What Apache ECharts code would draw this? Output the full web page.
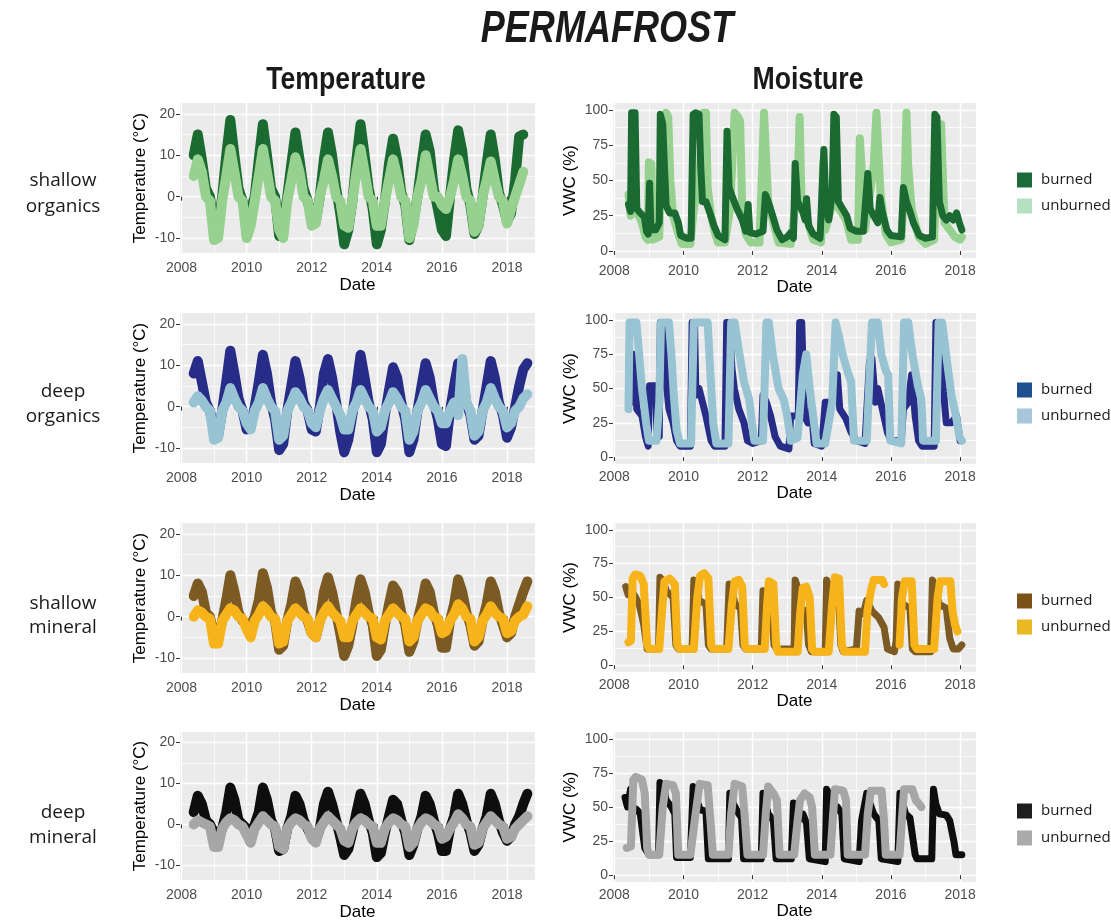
<!DOCTYPE html>
<html><head><meta charset="utf-8">
<script src="https://cdn.jsdelivr.net/npm/echarts@6/dist/echarts.min.js"></script>
<style>html,body{margin:0;padding:0;background:#fff}#c{width:1111px;height:922px}</style>
</head><body><div id="c"></div>
<script>
// ---------- DATA ----------
const xMajor = [2008, 2010, 2012, 2014, 2016, 2018];
const xMinor = [2009, 2011, 2013, 2015, 2017];
const tempTicks = [-10, 0, 10, 20];
const tempMinor = [-5, 5, 15];
const moistTicks = [0, 25, 50, 75, 100];
const moistMinor = [12.5, 37.5, 62.5, 87.5];

const rowNames = [["shallow","organics"],["deep","organics"],["shallow","mineral"],["deep","mineral"]];
const groups = ["burned", "unburned"];

const tempDates = [
 2008.375,2008.5,2008.625,2008.75,2008.875,
 2009,2009.125,2009.25,2009.375,2009.5,2009.625,2009.75,2009.875,
 2010,2010.125,2010.25,2010.375,2010.5,2010.625,2010.75,2010.875,
 2011,2011.125,2011.25,2011.375,2011.5,2011.625,2011.75,2011.875,
 2012,2012.125,2012.25,2012.375,2012.5,2012.625,2012.75,2012.875,
 2013,2013.125,2013.25,2013.375,2013.5,2013.625,2013.75,2013.875,
 2014,2014.125,2014.25,2014.375,2014.5,2014.625,2014.75,2014.875,
 2015,2015.125,2015.25,2015.375,2015.5,2015.625,2015.75,2015.875,
 2016,2016.125,2016.25,2016.375,2016.5,2016.625,2016.75,2016.875,
 2017,2017.125,2017.25,2017.375,2017.5,2017.625,2017.75,2017.875,
 2018,2018.125,2018.25,2018.375,2018.5,2018.625
];

// shallow organics temperature
const tSOB = [
 10,15,9,2,0,
 -8,-7,0,10,18.5,10,2,-1,
 -4,-3,0,9,17.5,10,2,0,
 -9.5,-6,0,8,15.5,9,2,-1,
 -5,-6,0,9,15.5,10,2,-4,
 -11.5,-8,-1,9,17.5,10,2,-3,
 -11.5,-8,-1,8,14,9,1,-2,
 -10.5,-6,0,8,15,11,2,-3,
 -8,-9.5,0,9,16,11,2,-2,
 -9,-7,0,8,15,9,1,-2,
 -6,-4,4,14.5,15,null
];
const tSOU = [
 5,9,6,0,-1,
 -10.5,-10,-1,5,11.5,6,0,-1,
 -10,-7,-1,5,11.5,6,0,-1,
 -8,-10,-1,4,9.5,6,0,-1,
 -7,-6.5,0,4,9,5,0,-1,
 -7,-7.5,-1,6,11.5,6,0,-1,
 -7,-7,-1,4,9,5,0,-1,
 -10,-7,0,4,10,5,0,0,
 -2,-3,0,4,9,5,0,-1,
 -8.5,-7,0,4,8.5,4,0,-1,
 -6.5,-3,0,3,6,null
];
// deep organics temperature
const tDOB = [
 8,11,6,1,-1,
 -6,-7,-1,6,13.5,8,2,-1,
 -5.5,-5,0,6,12.5,8,1,-3,
 -10.5,-9,-1,5,11,7,1,-1,
 -5.5,-6,0,8,11.5,7,1,-6,
 -11,-8,-2,5,12.5,7,1,-3,
 -11,-9,-2,4,9.5,7,1,-3,
 -11,-8,-1,5,10.5,7,1,-3,
 -9,-9.5,-1,5,10.5,7,1,-2,
 -8,-7,-1,5,11,7,1,-2,
 -7.5,-5,0,5,9,10.5
];
const tDOU = [
 1,2.5,1.5,0,-1,
 -8,-7.5,-1,1,4.5,2,0,-1,
 -4,-5.5,-1,1,4.5,2,0,-1,
 -8,-7,-1,1,3.5,2,0,-1,
 -4,-5,-1,2,4,2,0,-2,
 -5.5,-5.5,-1,1,4,2,0,-1,
 -6,-5,-1,1,3.5,2,0,-1,
 -8,-6,-1,1,4,2,0,-1,
 -4,-4,-1,1,-2,11.5,1,-1,
 -7,-6,-1,1,4.5,2,0,-1,
 -5,-4,-1,0,2,3
];
// shallow mineral temperature
const tSMB = [
 5,8,6,1,0,
 -5,-5,-1,4,10,6,1,-1,
 -2,-2,0,4,10.5,7,1,-1,
 -8,-7,-1,3,8.5,6,1,-1,
 -4,-5,-1,6,9.5,6,1,-4,
 -9.5,-7,-2,4,9,6,1,-2,
 -9.5,-8,-2,3,7.5,6,1,-2,
 -8.5,-6,-1,3,8,6,1,-2,
 -7.5,-7.5,-1,3,9,6,1,-2,
 -7,-6,-1,3,8.5,6,1,-2,
 -5,-4,0,3,6,8.5
];
const tSMU = [
 0,1.5,1,0,-0.5,
 -6.5,-6.5,-1,0.5,2,1.5,0,-0.5,
 -3,-5,-1,0.5,2.5,1.5,0,-0.5,
 -6.5,-6,-1,0.5,2,1,0,-0.5,
 -4,-5,-1,1,2.5,1,0,-1,
 -5,-5,-1,0.5,2,1,0,-0.5,
 -5,-5.5,-1,0.5,2,1,0,-0.5,
 -6,-5,-1,0.5,2,1.5,0,-0.5,
 -4,-3.5,-1,0.5,3,2,0,-0.5,
 -6,-5,-1,0.5,2.5,1,0,-0.5,
 -4,-3.5,-1,0,0.5,2.5
];
// deep mineral temperature
const tDMB = [
 3,7,5,1,0,
 -2,-3,-1,3,9,6,1,0,
 -1,-2,0,3,9,6,1,-1,
 -6.5,-6,-1,2,7,5,1,-1,
 -3,-4,-1,5,8,5,1,-3,
 -7.5,-6,-2,3,7.5,5,1,-2,
 -8,-7,-2,2,6,5,1,-2,
 -7.5,-5,-1,2,7,5,1,-2,
 -6.5,-6.5,-1,2,7.5,5,1,-2,
 -6.5,-5,-1,2,7.5,5,1,-2,
 -4,-3,0,2,5,7.5
];
const tDMU = [
 0,1,0.5,0,-0.5,
 -5.5,-5.5,-1,0.5,1.5,1,0,-0.5,
 -2.5,-4.5,-1,0.5,2,1,0,-0.5,
 -5.5,-6,-1,0.5,1.5,1,0,-0.5,
 -3.5,-4.5,-1,0.5,2,1,0,-1,
 -4,-4.5,-1,0.5,1.5,1,0,-0.5,
 -4.5,-4.5,-1,0.5,1.5,1,0,-0.5,
 -5.5,-4.5,-1,0.5,1.5,1,0,-0.5,
 -3.5,-3,-1,0.5,2.5,1.5,0,-0.5,
 -5,-4.5,-1,0.5,2,1,0,-0.5,
 -3.5,-3,-1,0,1,2
];

// moisture (VWC %) as [date, value]
const mSOB = [[2008.41,33],[2008.47,28],[2008.5,98],[2008.55,98],[2008.6,98],[2008.65,30],[2008.75,27],[2008.87,24],[2008.93,14],[2008.98,12],[2009.02,48],[2009.06,15],[2009.2,15],[2009.3,20],[2009.33,97],[2009.4,90],[2009.45,60],[2009.5,32],[2009.6,27],[2009.75,27],[2009.85,20],[2009.92,11],[2010.1,9],[2010.22,9],[2010.28,97],[2010.35,98],[2010.45,97],[2010.5,60],[2010.55,35],[2010.65,35],[2010.75,28],[2010.88,18],[2011,11],[2011.2,8],[2011.26,85],[2011.32,45],[2011.42,38],[2011.55,30],[2011.7,22],[2011.8,14],[2011.87,33],[2011.92,13],[2012.1,12],[2012.3,14],[2012.37,40],[2012.45,35],[2012.58,25],[2012.7,15],[2012.85,8],[2013,10],[2013.1,13],[2013.18,9],[2013.23,62],[2013.3,35],[2013.45,28],[2013.52,22],[2013.56,37],[2013.62,18],[2013.75,12],[2013.95,9],[2014.06,72],[2014.12,30],[2014.2,22],[2014.3,40],[2014.35,97],[2014.42,95],[2014.48,35],[2014.6,30],[2014.72,25],[2014.82,16],[2015,14],[2015.2,14],[2015.33,55],[2015.4,30],[2015.5,25],[2015.62,20],[2015.68,38],[2015.75,28],[2015.88,15],[2016,11],[2016.3,10],[2016.36,45],[2016.45,35],[2016.55,28],[2016.65,20],[2016.82,11],[2017,9],[2017.2,10],[2017.27,97],[2017.33,95],[2017.4,35],[2017.5,25],[2017.6,22],[2017.7,25],[2017.8,22],[2017.9,27],[2017.98,20],[2018.05,15]];
const mSOU = [[2008.41,40],[2008.47,25],[2008.55,30],[2008.65,28],[2008.8,20],[2008.9,10],[2008.97,8],[2009,63],[2009.07,62],[2009.12,8],[2009.3,10],[2009.38,80],[2009.5,98],[2009.56,95],[2009.62,50],[2009.7,25],[2009.85,12],[2009.95,5],[2010.2,5],[2010.3,30],[2010.45,50],[2010.58,98],[2010.65,98],[2010.7,45],[2010.8,25],[2010.92,12],[2011,6],[2011.2,6],[2011.35,30],[2011.48,98],[2011.58,95],[2011.64,92],[2011.7,30],[2011.8,12],[2011.95,6],[2012.2,6],[2012.33,98],[2012.38,98],[2012.45,35],[2012.6,20],[2012.75,6],[2013.1,5],[2013.3,45],[2013.36,95],[2013.42,30],[2013.6,20],[2013.75,8],[2013.98,6],[2014.04,63],[2014.1,15],[2014.25,28],[2014.33,40],[2014.5,30],[2014.7,22],[2014.85,8],[2015.05,8],[2015.1,80],[2015.15,60],[2015.25,15],[2015.5,60],[2015.58,98],[2015.62,98],[2015.7,40],[2015.85,12],[2016,6],[2016.3,8],[2016.4,50],[2016.45,98],[2016.5,60],[2016.6,30],[2016.8,10],[2017,5],[2017.25,8],[2017.35,80],[2017.45,90],[2017.55,20],[2017.7,15],[2017.85,10],[2018,8],[2018.05,10]];
const mDOB = [[2008.41,40],[2008.5,40],[2008.55,75],[2008.6,70],[2008.65,35],[2008.8,30],[2008.9,15],[2008.98,8],[2009.02,52],[2009.2,52],[2009.23,15],[2009.3,15],[2009.33,98],[2009.45,98],[2009.5,55],[2009.58,35],[2009.7,25],[2009.8,12],[2009.9,8],[2010.2,8],[2010.25,98],[2010.32,98],[2010.36,45],[2010.45,50],[2010.55,40],[2010.65,30],[2010.8,12],[2010.9,8],[2011.2,8],[2011.25,98],[2011.34,98],[2011.4,65],[2011.47,50],[2011.6,35],[2011.75,25],[2011.85,12],[2012,10],[2012.25,12],[2012.3,45],[2012.4,40],[2012.52,30],[2012.65,15],[2012.8,8],[2013.05,6],[2013.1,30],[2013.32,30],[2013.36,98],[2013.42,98],[2013.5,30],[2013.6,25],[2013.7,35],[2013.78,10],[2014,8],[2014.1,40],[2014.3,40],[2014.38,60],[2014.45,60],[2014.52,35],[2014.7,28],[2014.85,18],[2015,12],[2015.25,10],[2015.38,70],[2015.45,72],[2015.55,40],[2015.62,50],[2015.75,35],[2015.9,18],[2016,12],[2016.3,12],[2016.36,35],[2016.5,40],[2016.6,60],[2016.7,30],[2016.8,12],[2016.9,8],[2017.25,8],[2017.3,98],[2017.4,98],[2017.45,75],[2017.52,48],[2017.6,25],[2017.75,25],[2017.9,30],[2018,12],[2018.05,12]];
const mDOU = [[2008.41,35],[2008.44,98],[2008.55,98],[2008.64,98],[2008.7,80],[2008.8,50],[2008.92,25],[2009,12],[2009.22,12],[2009.3,40],[2009.35,98],[2009.58,98],[2009.65,75],[2009.72,45],[2009.8,20],[2009.9,10],[2010.22,10],[2010.3,98],[2010.5,98],[2010.7,98],[2010.78,60],[2010.86,25],[2010.95,10],[2011.3,10],[2011.38,98],[2011.48,98],[2011.6,78],[2011.75,55],[2011.9,42],[2011.98,25],[2012.05,12],[2012.3,12],[2012.4,98],[2012.47,98],[2012.58,75],[2012.75,50],[2012.9,42],[2013,30],[2013.1,12],[2013.3,14],[2013.45,60],[2013.55,75],[2013.65,50],[2013.75,30],[2013.85,10],[2014.1,10],[2014.3,40],[2014.4,98],[2014.48,90],[2014.6,75],[2014.75,62],[2014.85,55],[2014.93,12],[2015.3,12],[2015.45,98],[2015.62,98],[2015.72,75],[2015.85,63],[2015.92,60],[2015.98,12],[2016.3,10],[2016.38,98],[2016.5,98],[2016.62,75],[2016.78,52],[2016.88,42],[2016.93,12],[2017.3,12],[2017.38,98],[2017.48,98],[2017.62,70],[2017.75,45],[2017.88,30],[2017.98,15],[2018.05,12]];
const mSMB = [[2008.33,58],[2008.4,52],[2008.5,55],[2008.62,50],[2008.72,45],[2008.85,30],[2008.95,12],[2009.28,12],[2009.32,65],[2009.42,62],[2009.5,55],[2009.7,50],[2009.78,15],[2009.85,12],[2010.25,12],[2010.3,63],[2010.38,60],[2010.45,48],[2010.65,45],[2010.72,15],[2010.8,12],[2011.25,12],[2011.32,60],[2011.4,55],[2011.5,45],[2011.65,42],[2011.72,15],[2011.8,12],[2012.25,12],[2012.3,55],[2012.4,48],[2012.55,42],[2012.62,15],[2012.7,12],[2013.2,12],[2013.23,63],[2013.33,55],[2013.4,42],[2013.55,40],[2013.62,15],[2013.7,10],[2014.1,10],[2014.14,63],[2014.24,55],[2014.35,45],[2014.5,43],[2014.55,15],[2014.62,10],[2015,12],[2015.08,40],[2015.2,38],[2015.3,48],[2015.45,40],[2015.65,35],[2015.8,28],[2015.9,12],[2016.1,10],[2016.15,18],[2016.2,60],[2016.25,55],[2016.35,45],[2016.55,42],[2016.62,12],[2016.7,10],[2017.15,10],[2017.2,63],[2017.28,55],[2017.4,45],[2017.6,42],[2017.7,20],[2017.8,12],[2017.95,12],[2018.05,15]];
const mSMU = [[2008.41,17],[2008.48,18],[2008.53,64],[2008.6,67],[2008.75,66],[2008.85,60],[2008.95,15],[2009,12],[2009.3,12],[2009.38,40],[2009.45,62],[2009.6,64],[2009.75,60],[2009.82,15],[2009.88,12],[2010.3,12],[2010.4,50],[2010.48,66],[2010.6,68],[2010.72,64],[2010.8,15],[2010.85,12],[2011.3,12],[2011.4,45],[2011.48,62],[2011.6,63],[2011.7,58],[2011.77,15],[2011.82,12],[2012.35,12],[2012.42,45],[2012.47,62],[2012.6,60],[2012.68,15],[2012.73,10],[2013.3,10],[2013.38,40],[2013.45,57],[2013.55,58],[2013.65,50],[2013.72,12],[2013.78,10],[2014.2,10],[2014.3,45],[2014.38,65],[2014.5,64],[2014.58,15],[2014.65,10],[2015.25,10],[2015.32,40],[2015.42,55],[2015.5,63],[2015.75,63],[2015.8,60],[2015.82,null],[2016.25,15],[2016.32,50],[2016.4,62],[2016.6,62],[2016.68,15],[2016.75,12],[2017.25,12],[2017.35,50],[2017.42,62],[2017.72,62],[2017.78,40],[2017.85,30],[2017.92,25]];
const mDMB = [[2008.31,57],[2008.38,50],[2008.47,63],[2008.53,50],[2008.65,48],[2008.75,45],[2008.88,20],[2009,15],[2009.28,15],[2009.32,68],[2009.42,65],[2009.5,55],[2009.65,50],[2009.75,45],[2009.8,13],[2010.2,13],[2010.28,65],[2010.36,57],[2010.48,48],[2010.65,47],[2010.72,12],[2011.3,12],[2011.34,60],[2011.45,52],[2011.6,45],[2011.68,42],[2011.74,12],[2012.25,12],[2012.3,60],[2012.45,45],[2012.6,40],[2012.68,12],[2013.12,12],[2013.18,53],[2013.27,38],[2013.45,45],[2013.56,38],[2013.64,12],[2014.1,10],[2014.14,63],[2014.2,60],[2014.3,48],[2014.45,50],[2014.58,45],[2014.65,12],[2015.08,10],[2015.15,40],[2015.3,60],[2015.36,55],[2015.5,45],[2015.65,40],[2015.72,12],[2016.2,10],[2016.26,60],[2016.32,55],[2016.42,45],[2016.55,42],[2016.7,15],[2016.75,12],[2017.18,12],[2017.23,63],[2017.3,52],[2017.4,45],[2017.6,44],[2017.7,40],[2017.82,25],[2017.88,15],[2018.05,15]];
const mDMU = [[2008.36,20],[2008.48,21],[2008.55,70],[2008.62,72],[2008.8,70],[2008.88,60],[2008.95,20],[2009,15],[2009.3,15],[2009.4,50],[2009.5,67],[2009.7,66],[2009.78,60],[2009.85,15],[2010.2,15],[2010.35,45],[2010.47,67],[2010.7,66],[2010.78,40],[2010.85,15],[2011.3,15],[2011.38,45],[2011.48,67],[2011.7,65],[2011.78,40],[2011.85,15],[2012.3,15],[2012.38,45],[2012.45,65],[2012.6,60],[2012.7,55],[2012.78,15],[2013.2,15],[2013.3,40],[2013.37,55],[2013.5,60],[2013.65,57],[2013.72,50],[2013.8,15],[2014.25,15],[2014.33,45],[2014.38,63],[2014.62,62],[2014.7,55],[2014.75,15],[2015.25,15],[2015.33,45],[2015.42,62],[2015.73,62],[2015.8,40],[2015.85,15],[2016.25,15],[2016.33,45],[2016.38,63],[2016.62,63],[2016.72,55],[2016.82,52],[2016.88,50]];

// ---------- LAYOUT / STYLE ----------
const FONT = "'Liberation Sans', Arial, sans-serif";
const LFONT = "'Open Sans', 'Noto Sans', sans-serif";
const lineColors = [["#1b6a32","#97d18f"],["#262c87","#97c3d3"],["#7b5a23","#f6b31a"],["#0e0e0e","#a6a6a6"]];
const legendColors = [["#1b6b3a","#b5e0c2"],["#1f4f8f","#a9c5d9"],["#7a5218","#e9b923"],["#1e1e1e","#ababab"]];
const tempData = [[tSOB,tSOU],[tDOB,tDOU],[tSMB,tSMU],[tDMB,tDMU]];
const moistData = [[mSOB,mSOU],[mDOB,mDOU],[mSMB,mSMU],[mDMB,mDMU]];
const tops = [103, 313, 523, 732];
const moistH = [155, 151, 149, 150];
const rowLabelY = [[181,207],[392,417],[604,628],[813,838]];
const legendY = [[180,206],[390,416],[601,627],[811,838]];

const grids = [], xAxes = [], yAxes = [], series = [];
const fmt = v => String(v);

function addPanel(box, xr, yr, yT, yM, yName, yGap, xMargin, xGap) {
  const g = grids.length;
  grids.push({left: box[0], top: box[1], width: box[2], height: box[3], show: true,
    backgroundColor: '#ebebeb', borderWidth: 0});
  const xi = xAxes.length, yi = yAxes.length;
  xAxes.push({type: 'value', gridIndex: g, min: xr[0], max: xr[1],
    axisLine: {show: false},
    axisTick: {show: true, length: 4, lineStyle: {color: '#333', width: 1}, customValues: xMajor},
    axisLabel: {customValues: xMajor, formatter: fmt, color: '#4d4d4d', fontSize: 14, fontFamily: FONT, margin: xMargin},
    splitLine: {show: true, lineStyle: {color: '#ffffff', width: 1.4}},
    name: 'Date', nameLocation: 'middle', nameGap: xGap,
    nameTextStyle: {color: '#000', fontSize: 17, fontFamily: FONT}});
  xAxes.push({type: 'value', gridIndex: g, min: xr[0], max: xr[1], position: 'bottom',
    axisLine: {show: false}, axisTick: {show: false, customValues: xMinor},
    axisLabel: {show: false}, splitLine: {show: true, lineStyle: {color: '#ffffff', width: 0.7}}});
  yAxes.push({type: 'value', gridIndex: g, min: yr[0], max: yr[1],
    axisLine: {show: false},
    axisTick: {show: true, length: 4, lineStyle: {color: '#333', width: 1}, customValues: yT},
    axisLabel: {customValues: yT, formatter: fmt, color: '#4d4d4d', fontSize: 14, fontFamily: FONT, margin: 5},
    splitLine: {show: true, lineStyle: {color: '#ffffff', width: 1.4}},
    name: yName, nameLocation: 'middle', nameGap: yGap, nameRotate: 90,
    nameTextStyle: {color: '#000', fontSize: 17, fontFamily: FONT}});
  yAxes.push({type: 'value', gridIndex: g, min: yr[0], max: yr[1], position: 'left',
    axisLine: {show: false}, axisTick: {show: false, customValues: yM},
    axisLabel: {show: false}, splitLine: {show: true, lineStyle: {color: '#ffffff', width: 0.7}}});
  return {xi, yi};
}

function addLine(ax, data, color, width, z) {
  series.push({type: 'line', xAxisIndex: ax.xi, yAxisIndex: ax.yi, data: data,
    showSymbol: false, symbol: 'none', connectNulls: false, silent: true, z: z,
    lineStyle: {color: color, width: width, cap: 'round', join: 'round'}});
}

const graphics = [];
function txt(x, y, text, size, opts, sx) {
  graphics.push({type: 'text', x: x, y: y, scaleX: sx || 1, silent: true, style: Object.assign({
    text: text, fill: '#1a1a1a', fontSize: size, fontFamily: LFONT, align: 'center', verticalAlign: 'middle'}, opts || {})});
}

for (let r = 0; r < 4; r++) {
  // temperature panel
  const ta = addPanel([180, tops[r], 355, 150], [2007.954, 2018.86], [-13.6, 22.6],
    tempTicks, tempMinor, 'Temperature (°C)', 31, 8, 24);
  const td = tempData[r];
  addLine(ta, tempDates.map((t, i) => [t, td[0][i]]), lineColors[r][0], 10, 3);
  addLine(ta, tempDates.map((t, i) => [t, td[1][i]]), lineColors[r][1], 10, 4);
  // moisture panel
  const ma = addPanel([613, tops[r], 363, moistH[r]], [2007.962, 2018.46], [-5, 105],
    moistTicks, moistMinor, 'VWC (%)', 34, 6, 20);
  const md = moistData[r];
  if (r === 0) {
    addLine(ma, md[1], lineColors[r][1], 8, 3);
    addLine(ma, md[0], lineColors[r][0], 7, 4);
  } else {
    addLine(ma, md[0], lineColors[r][0], 7, 3);
    addLine(ma, md[1], lineColors[r][1], 8, 4);
  }
  // row labels
  txt(63, rowLabelY[r][0], rowNames[r][0], 19);
  txt(63, rowLabelY[r][1], rowNames[r][1], 19);
  // legend
  for (let k = 0; k < 2; k++) {
    graphics.push({type: 'rect', silent: true, shape: {x: 1017, y: legendY[r][k] - 7.5, width: 15, height: 15},
      style: {fill: legendColors[r][k]}});
    txt(1041, legendY[r][k], groups[k], 15, {align: 'left'});
  }
}

const TFONT = "'Liberation Sans', Arial, sans-serif";
txt(607, 30, 'PERMAFROST', 44, {fontFamily: TFONT, fontWeight: 'bold', fontStyle: 'italic', fill: '#1a1a1a'}, 0.82);
txt(346, 80, 'Temperature', 31, {fontFamily: TFONT, fontWeight: 'bold', fill: '#1a1a1a'}, 0.86);
txt(808, 80, 'Moisture', 31, {fontFamily: TFONT, fontWeight: 'bold', fill: '#1a1a1a'}, 0.86);

const chart = echarts.init(document.getElementById('c'), null, {renderer: 'canvas'});
chart.setOption({
  animation: false,
  backgroundColor: '#ffffff',
  grid: grids, xAxis: xAxes, yAxis: yAxes, series: series, graphic: graphics
});
</script></body></html>
